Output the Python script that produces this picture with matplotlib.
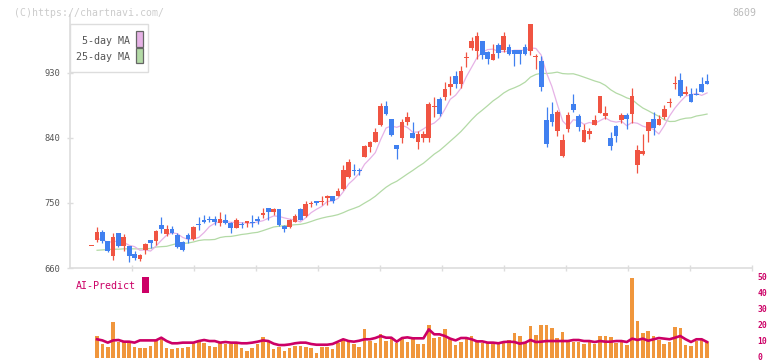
import numpy as np
import pandas as pd
import matplotlib
matplotlib.use("Agg")
import matplotlib.pyplot as plt
from matplotlib.patches import Rectangle
from matplotlib.transforms import ScaledTranslation

# ---------------- data ----------------
opens = [691, 699, 710, 697, 677, 709, 690, 690.5, 679, 673,
         685, 699, 698, 719.5, 707, 714, 706, 696, 706, 700,
         721, 726.5, 727.5, 728, 722, 726.5, 722, 716, 721, 722,
         723, 728, 734, 743, 737, 741, 718, 717, 724, 741,
         732, 748, 753, 751, 756.5, 760, 760, 769, 786.5, 795,
         795, 814, 828, 835, 858, 884, 866, 830, 840, 862,
         847, 835, 840, 840, 882.5, 894, 896, 911, 926, 915,
         951, 965, 960, 974, 959.5, 948, 969, 961, 965.5, 961,
         962, 965.5, 960, 952, 947, 865, 873, 850, 815.5, 852.5,
         887, 870.5, 835, 845.5, 858, 875, 870.5, 840, 857, 865,
         872, 873, 803, 818, 850, 866, 858, 869, 888.5, 915,
         920, 901, 901, 901, 915, 918.5]
highs = [691, 717, 712, 698, 709, 709, 707, 691, 683, 680,
         695, 699, 712, 730, 719.5, 718, 709, 697, 708, 718,
         730, 734, 732, 732, 737, 735, 723, 729, 724, 725,
         733, 732, 743, 743, 743, 741, 719, 728, 735, 743,
         753, 752, 753, 759, 760.5, 760, 770, 803, 811, 804,
         799, 830, 836, 853, 888, 891, 866, 830, 866, 875.6,
         862, 849, 849, 890, 896, 897, 918, 925, 933, 939,
         959, 979, 986, 974, 960, 970, 971, 986, 970, 961,
         962, 970, 998, 956, 953, 883, 889, 878, 845.5, 875.6,
         901, 873, 859, 853, 872, 898, 884, 848, 858, 875,
         874, 909, 830, 845.5, 862, 876, 872, 886, 895, 926,
         929.5, 912, 909, 909, 924.5, 928.6]
lows = [691, 696, 695, 682, 671, 689, 684, 668, 671, 669,
        679, 687, 692, 708, 704, 707, 688, 684, 694, 699,
        713, 722, 723, 720, 718, 720.5, 709, 715, 715, 717,
        717, 720.5, 729, 727, 734, 718, 710, 716, 723, 726,
        731, 745, 747, 747, 747, 750, 759, 768, 784, 788,
        788, 813, 820, 835, 857, 872, 843, 810.5, 833, 858,
        840, 824, 835, 835, 869, 870.5, 892, 899.5, 909, 909,
        938, 961, 949, 949, 942.5, 948, 951, 959, 954, 940,
        942, 954, 955, 935.5, 905.5, 828, 857, 842, 814, 848.7,
        876, 850, 835, 839, 858, 875, 866, 823, 835, 861,
        852.5, 861, 792, 816.5, 835, 844, 858, 866, 883, 908,
        897, 899.5, 890, 899, 903, 915]
closes = [691, 710, 697, 683, 703, 691, 703, 677, 674, 678,
          693, 695, 711, 714, 714, 709, 689.5, 685, 700, 717,
          720, 723, 726.5, 723, 728, 722, 716, 727, 720, 725,
          722, 725, 735, 737, 741, 719, 714.5, 726.5, 732, 726.5,
          748.6, 749, 750, 752, 760, 752, 766.6, 796, 806, 793.5,
          793.5, 829, 834, 848, 884, 873, 844, 824, 862, 868.7,
          840.4, 845.5, 845.5, 887, 884, 873, 908, 915, 915, 932,
          952.5, 974, 981, 954, 949, 956, 957, 981, 956, 956,
          956, 956, 998, 953, 910, 832, 862.6, 876, 837, 872,
          878, 855.6, 851, 849.7, 865, 898, 875, 829, 842, 872,
          866, 898, 823, 822, 862, 854, 866, 880, 890, 916.5,
          898, 904, 890, 899, 903, 915]
# 25-day MA for the first candles (earlier history not shown)
ma25_head = [np.nan, 684.5, 685, 685.5, 686, 686, 686.5, 686.5, 686.5, 686.5,
             686.5, 687, 689, 689.5, 690, 692, 694, 694, 694.5, 696,
             698, 699, 699, 699.5]
volumes = [np.nan, 13.75, 8.5, 6.9, 22.3, 10, 10.4, 10, 6.9, 6,
           6, 7.5, 10.6, 12.3, 6, 5.4, 6, 6, 6.9, 9.2,
           10, 9.6, 7.5, 6.9, 9.6, 8.5, 8.5, 9.2, 6, 4.4,
           6, 8.75, 12.9, 10.6, 5.4, 6.9, 4.2, 6, 7.5, 7.5,
           6.9, 6, 2.9, 6.9, 6.9, 5.4, 9.2, 11.25, 11.25, 8.5,
           6.9, 17.9, 10.6, 9.2, 15, 10.4, 12.1, 9.2, 11.7, 10,
           12.9, 8.5, 8.5, 20.4, 12.3, 13.1, 17.9, 11.7, 8.1, 10,
           11.7, 13.5, 10, 9.2, 10, 8.5, 9.2, 10, 11, 15.4,
           13.75, 9.2, 20, 14.4, 20.4, 20.4, 18.5, 12.3, 16, 10,
           10, 10, 8.75, 10, 8.75, 13.75, 13.75, 12.9, 9.4, 10,
           8.1, 50, 22.9, 15.4, 16.7, 13.75, 11, 8.75, 10, 19.2,
           18.5, 8.1, 7.5, 10.6, 11.25, 10]
ai_predict = [np.nan, 11.7, 11, 9.6, 11, 11.25, 10.2, 10.2, 9.6, 11, 11,
              11, 11, 12.7, 10.6, 9.2, 9.2, 9.6, 9.6, 9.6, 10.6,
              11.25, 10.6, 10.6, 9.6, 10, 9.6, 9.6, 9.2, 9.2, 9.6,
              10.2, 11, 10.6, 8.95, 8.1, 8.1, 8.5, 9.2, 9.6, 9.6,
              8.75, 8.3, 8.3, 8.3, 8.75, 10.2, 11.7, 10.6, 10.2, 10.8,
              11.7, 11.7, 12.5, 13.75, 12.7, 12.7, 10.2, 12.5, 12.9, 12.3,
              12.3, 12.3, 17.9, 14.8, 14.8, 13.75, 12.1, 11, 12.5, 12.5,
              11.7, 10.4, 10.4, 9.6, 9.6, 9.2, 10, 10.2, 10, 8.95,
              9.6, 11.25, 10, 10.2, 10.6, 10.6, 10.6, 10.6, 10.6, 11.25,
              11.25, 10.6, 10.6, 10, 10.6, 10.2, 10.2, 10.6, 10.6, 10,
              12.1, 11.25, 12.1, 10.8, 11.7, 12.5, 12.1, 11.7, 12.7, 13.75,
              11.7, 10, 11.7, 11.7, 10]
date_labels = ['11/17', '12/2', '12/16', '12/30', '1/19', '2/2',
               '2/17', '3/4', '3/18', '4/2', '4/16']
date_label_idx = [15, 25, 35, 45, 55, 65, 75, 85, 95, 105, 115]
price_ticks = [660, 750, 840, 930]
vol_ticks = [0, 10, 20, 30, 40, 50]

# ---------------- derived ----------------
o = np.array(opens, float); h = np.array(highs, float)
l = np.array(lows, float); c = np.array(closes, float)
n = len(c)
idx = np.arange(n)
cs = pd.Series(c)
ma5 = cs.rolling(5, min_periods=1).mean().to_numpy()
ma5[0] = np.nan
ma25 = cs.rolling(25).mean().to_numpy()
ma25[:len(ma25_head)] = ma25_head

# ---------------- style ----------------
RED = '#f05442'
BLUE = '#4080f0'
PINK = '#e6b2e6'
GREEN = '#b3daa6'
GRID = '#dddddd'
TXT = '#555555'
MAG = '#cc0066'
ORANGE = '#f0963c'
MONO = 'DejaVu Sans Mono'

W, H = 772, 361
fig = plt.figure(figsize=(W / 100, H / 100), dpi=100)
fig.patch.set_facecolor('white')

def rect(lft, top, rgt, bot):
    return [lft / W, 1 - bot / H, (rgt - lft) / W, (bot - top) / H]

XL = (-4.06, 123.4)

ax = fig.add_axes(rect(70, 15, 752, 268))
ax.set_xlim(*XL)
ax.set_ylim(660, 1010)

ax.plot(idx, ma25, color=GREEN, lw=0.9, zorder=2)
ax.plot(idx, ma5, color=PINK, lw=0.9, zorder=2)

up = c >= o
cols = np.where(up, RED, BLUE)
ax.vlines(idx, l, h, colors=cols, lw=0.9, zorder=3)
body_h = np.maximum(np.abs(c - o), 1.4)
body_b = np.minimum(o, c)
ax.bar(idx, body_h, bottom=body_b, width=0.88, color=cols, linewidth=0, zorder=4)

for s in ['top', 'right']:
    ax.spines[s].set_visible(False)
for s in ['left', 'bottom']:
    ax.spines[s].set_color(GRID)
    ax.spines[s].set_linewidth(1.2)

ax.set_yticks(price_ticks)
ax.set_yticklabels([str(v) for v in price_ticks], family=MONO)
ax.tick_params(axis='y', direction='inout', length=5, width=1, color=GRID,
               labelcolor=TXT, labelsize=6.3, pad=4.5)
xt = [XL[0] + (XL[1] - XL[0]) * k / 11 for k in range(1, 12)]
ax.set_xticks(xt)
ax.set_xticklabels([])
ax.tick_params(axis='x', direction='inout', length=5, width=1, color=GRID)

for lbl, i in zip(date_labels, date_label_idx):
    ax.annotate(lbl, xy=(i, 0), xycoords=('data', 'axes fraction'),
                xytext=(0, -13), textcoords='offset points',
                ha='center', va='center', fontsize=6.5, color=TXT,
                family=MONO, annotation_clip=False)

# ---------------- volume panel ----------------
ax2 = fig.add_axes(rect(70, 278, 752, 358))
ax2.set_xlim(*XL)
ax2.set_ylim(0, 50)
ax2.bar(idx, volumes, width=0.66, color=ORANGE, linewidth=0, zorder=2)
ax2.plot(idx, ai_predict, color=MAG, lw=1.9, zorder=3)
for s in ax2.spines.values():
    s.set_visible(False)
ax2.set_xticks([])
ax2.yaxis.tick_right()
ax2.set_yticks(vol_ticks)
ax2.set_yticklabels([str(v) for v in vol_ticks], family=MONO)
ax2.tick_params(axis='y', length=0, labelcolor=MAG, labelsize=5.8, pad=4)
shift = ScaledTranslation(0, 1.5 / 100, fig.dpi_scale_trans)
for t in ax2.get_yticklabels():
    t.set_fontweight('bold')
    t.set_transform(t.get_transform() + shift)

# ---------------- texts, legend ----------------
def fx(px): return px / W
def fy(py): return 1 - py / H

fig.text(fx(14), fy(12.5), '(C)https://chartnavi.com/', fontsize=7.1,
         color='#cccccc', family=MONO, ha='left', va='center')
fig.text(fx(756), fy(12.5), '8609', fontsize=7.1, color='#bbbbbb',
         family=MONO, ha='right', va='center')

fig.patches.append(Rectangle((fx(70), fy(72)), fx(148) - fx(70), fy(24) - fy(72),
                             transform=fig.transFigure, facecolor='white',
                             edgecolor=GRID, lw=1.0, zorder=5))
fig.text(fx(130), fy(41), '5-day MA', fontsize=7.2, color=TXT, family=MONO,
         ha='right', va='center', zorder=6)
fig.text(fx(130), fy(57.3), '25-day MA', fontsize=7.2, color=TXT, family=MONO,
         ha='right', va='center', zorder=6)
fig.patches.append(Rectangle((fx(136.3), fy(46.7)), fx(142.7) - fx(136.3), fy(31) - fy(46.7),
                             transform=fig.transFigure, facecolor=PINK,
                             edgecolor='#666666', lw=0.9, zorder=6))
fig.patches.append(Rectangle((fx(136.3), fy(63.3)), fx(142.7) - fx(136.3), fy(48.3) - fy(63.3),
                             transform=fig.transFigure, facecolor=GREEN,
                             edgecolor='#666666', lw=0.9, zorder=6))

fig.text(fx(76), fy(286), 'AI-Predict', fontsize=7.2, color=MAG, family=MONO,
         ha='left', va='center')
fig.patches.append(Rectangle((fx(142.3), fy(292.7)), fx(148.7) - fx(142.3), fy(276.7) - fy(292.7),
                             transform=fig.transFigure, facecolor=MAG,
                             edgecolor='none'))

fig.savefig('out.png', dpi=100, facecolor='white')
